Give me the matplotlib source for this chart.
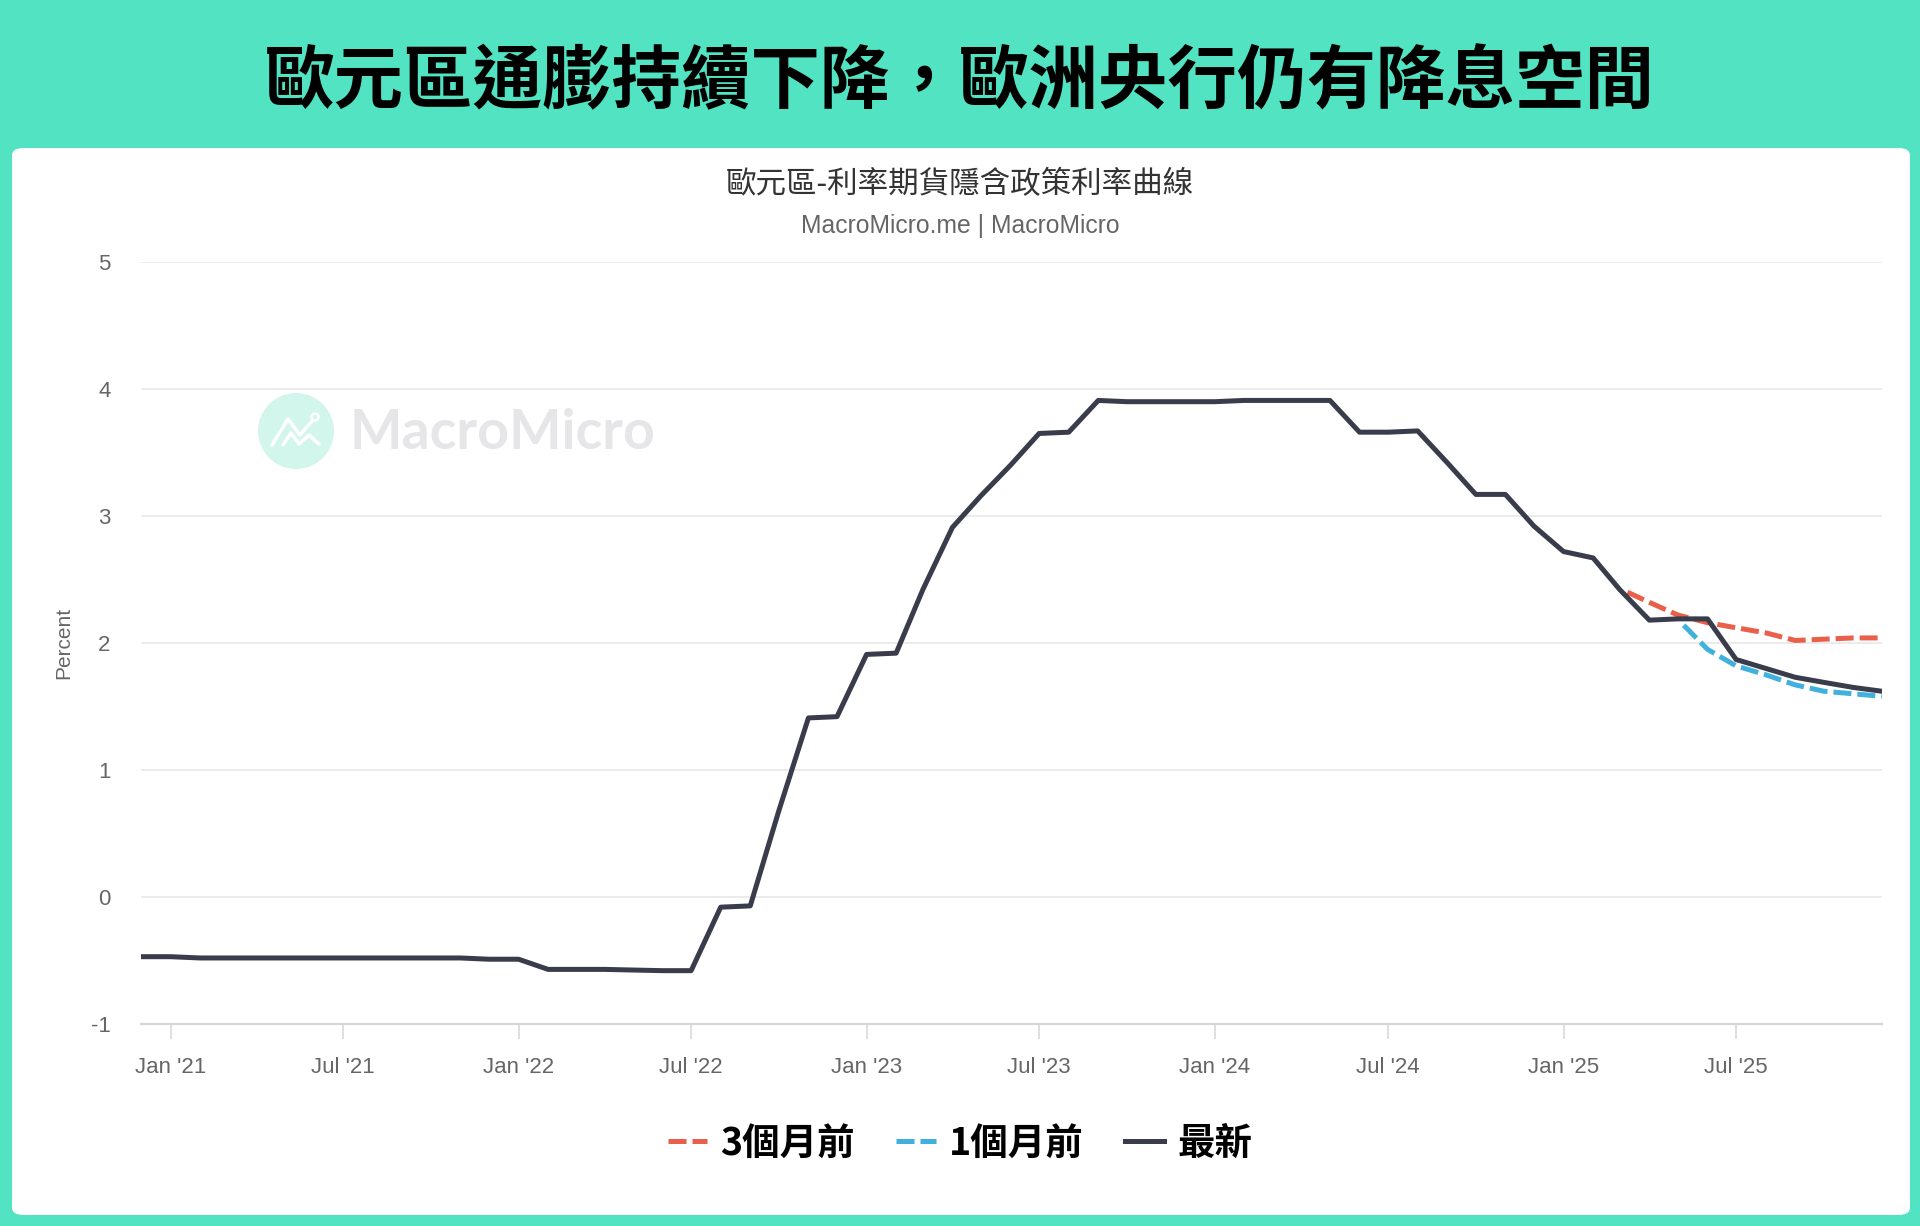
import numpy as np
import pandas as pd
import matplotlib
matplotlib.use("Agg")
import matplotlib.pyplot as plt
import matplotlib.dates as mdates
from matplotlib.patches import FancyBboxPatch, Ellipse
from matplotlib.lines import Line2D

plt.rcParams["axes.unicode_minus"] = False

# ---- data ----
latest_start = "2020-12-01"
latest_vals = [-0.47, -0.47, -0.48, -0.48, -0.48, -0.48, -0.48, -0.48, -0.48, -0.48,
               -0.48, -0.48, -0.49, -0.49, -0.57, -0.57, -0.57, -0.575, -0.58, -0.58,
               -0.08, -0.07, 0.68, 1.41, 1.42, 1.91, 1.92, 2.42, 2.91, 3.16,
               3.40, 3.65, 3.66, 3.91, 3.90, 3.90, 3.90, 3.90, 3.91, 3.91,
               3.91, 3.91, 3.66, 3.66, 3.67, 3.42, 3.17, 3.17, 2.92, 2.72,
               2.67, 2.42, 2.18, 2.19, 2.19, 1.87, 1.80, 1.73, 1.69, 1.65,
               1.62]

m3_dates = ["2025-03-09", "2025-04-01", "2025-05-01", "2025-06-01", "2025-07-01",
            "2025-08-01", "2025-09-01", "2025-10-01", "2025-11-01", "2025-12-01"]
m3_vals = [2.40, 2.32, 2.22, 2.16, 2.12, 2.08, 2.02, 2.03, 2.04, 2.04]

m1_dates = ["2025-05-07", "2025-06-01", "2025-07-01", "2025-08-01", "2025-09-01",
            "2025-10-01", "2025-11-01", "2025-12-01"]
m1_vals = [2.14, 1.95, 1.82, 1.75, 1.67, 1.62, 1.60, 1.58]

labels = ["3個月前", "1個月前", "最新"]
colors = ["#ea5f4a", "#3fb1dc", "#393c4b"]

title = "歐元區通膨持續下降，歐洲央行仍有降息空間"
chart_title = "歐元區-利率期貨隱含政策利率曲線"
subtitle = "MacroMicro.me | MacroMicro"

CJK = ["Noto Sans CJK TC", "DejaVu Sans"]
LAT = ["Liberation Sans", "DejaVu Sans"]
TEAL = "#52e4c2"

W, H = 1920, 1226


def fx(px):
    return px / W


def fy(py):
    return 1 - py / H


fig = plt.figure(figsize=(W / 100, H / 100), dpi=100, facecolor=TEAL)

# white card
card = FancyBboxPatch((fx(12), fy(1215)), fx(1910) - fx(12), fy(148) - fy(1215),
                      boxstyle="round,pad=0,rounding_size=0.006",
                      transform=fig.transFigure, fc="white", ec="none", zorder=-10)
fig.add_artist(card)

fig.text(0.5, fy(83), title, ha="center", va="center", fontsize=50,
         fontweight="black", family=CJK, color="black")
fig.text(0.5, fy(185), chart_title, ha="center", va="center", fontsize=22,
         family=CJK, color="#333333")
fig.text(0.5, fy(226), subtitle, ha="center", va="center", fontsize=17.8,
         family=LAT, color="#666666")

# watermark
cx, cy, r = 296, 431, 38
fig.add_artist(Ellipse((fx(cx), fy(cy)), 2 * r / W, 2 * r / H, transform=fig.transFigure,
                       fc="#d3f6ec", ec="none", zorder=-5))
up = [(-24, 14), (-8, -12), (4, 4), (17, -11)]
lo = [(-13, 14), (-5, 2), (3, 13), (13, 4), (23, 13)]
for pts in (up, lo):
    fig.add_artist(Line2D([fx(cx + a) for a, b in pts], [fy(cy + b) for a, b in pts],
                          transform=fig.transFigure, color="white", lw=2.5,
                          solid_capstyle="round", zorder=-4))
fig.add_artist(Ellipse((fx(cx + 19), fy(cy - 14)), 7 / W, 7 / H, transform=fig.transFigure,
                       fc="none", ec="white", lw=1.8, zorder=-4))
fig.text(fx(350), fy(433), "MacroMicro", ha="left", va="center", fontsize=40,
         fontweight="bold", family=["Lato", "DejaVu Sans"], color="#e6e6e9", zorder=-5)

# ---- axes ----
ax = fig.add_axes([fx(141), fy(1024), fx(1882) - fx(141), fy(262) - fy(1024)])
ax.set_facecolor("none")

latest_dates = pd.date_range(latest_start, periods=len(latest_vals), freq="MS")
lw = 3.6
ax.plot(pd.to_datetime(m3_dates), m3_vals, color=colors[0], lw=lw, dashes=(3.6, 1.2),
        label=labels[0], zorder=3)
ax.plot(pd.to_datetime(m1_dates), m1_vals, color=colors[1], lw=lw, dashes=(3.6, 1.2),
        label=labels[1], zorder=4)
ax.plot(latest_dates, latest_vals, color=colors[2], lw=lw, label=labels[2],
        solid_joinstyle="round", zorder=5)

ax.set_xlim(pd.Timestamp("2020-12-01"), pd.Timestamp("2025-12-01"))
ax.set_ylim(-1, 5)
ax.set_yticks(range(-1, 6))
ax.yaxis.grid(True, color="#e6e6e6", lw=1.1)
ax.set_axisbelow(True)

ax.xaxis.set_major_locator(mdates.MonthLocator(bymonth=[1, 7]))
ax.xaxis.set_major_formatter(mdates.DateFormatter("%b '%y"))

for s in ["top", "right", "left"]:
    ax.spines[s].set_visible(False)
ax.spines["bottom"].set_color("#d6d6d6")
ax.spines["bottom"].set_linewidth(1.6)

ax.tick_params(axis="y", length=0, pad=22, labelsize=16, labelcolor="#666666")
ax.tick_params(axis="x", length=10.5, width=1.1, color="#d6d6d6", pad=13.5,
               labelsize=16, labelcolor="#666666")
for t in ax.get_xticklabels() + ax.get_yticklabels():
    t.set_family(LAT)

fig.text(fx(64), fy(643), "Percent", rotation=90, ha="center", va="center",
         fontsize=15, family=LAT, color="#666666")

leg = fig.legend(loc="center", bbox_to_anchor=(0.5, fy(1143)), ncol=3, frameon=False,
                 handlelength=1.05, handletextpad=0.35, columnspacing=1.1,
                 prop={"family": CJK, "weight": "bold", "size": 27})
for t in leg.get_texts():
    t.set_color("black")

fig.savefig("out.png", dpi=100, facecolor=TEAL)
